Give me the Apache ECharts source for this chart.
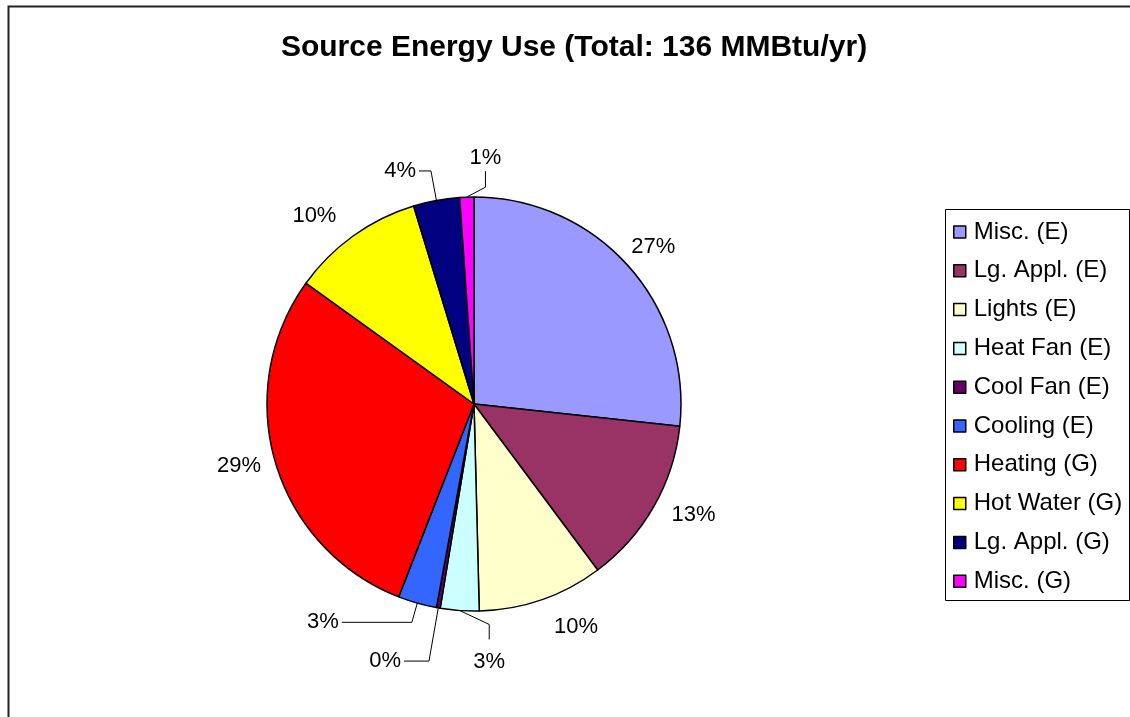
<!DOCTYPE html>
<html>
<head>
<meta charset="utf-8">
<script src="https://cdn.jsdelivr.net/npm/echarts@6/dist/echarts.min.js"></script>
<style>
  html, body { margin: 0; padding: 0; background: #fff; }
  #chart { width: 1130px; height: 717px; }
</style>
</head>
<body>
<div id="chart"></div>
<script>
const titleText = 'Source Energy Use (Total: 136 MMBtu/yr)';
const categories = ['Misc. (E)', 'Lg. Appl. (E)', 'Lights (E)', 'Heat Fan (E)', 'Cool Fan (E)',
  'Cooling (E)', 'Heating (G)', 'Hot Water (G)', 'Lg. Appl. (G)', 'Misc. (G)'];
// MMBtu/yr (sum ~136)
const energy = [36.3, 17.8, 13.3, 4.1, 0.4, 4.1, 39.4, 14.1, 4.9, 1.5];

const colors = ['#9999FF', '#993366', '#FFFFCC', '#CCFFFF', '#660066',
  '#3366FF', '#FF0000', '#FFFF00', '#000080', '#FF00FF'];
// leader line per slice: [length, length2, show line]
const leaders = [[19, 0, false], [17, 0, false], [29, 0, false], [22, 0, true], [54, 25, true],
  [20, 70, true], [12, 0, false], [24, 0, false], [30, 12, true], [14, 0, true]];
// label tweaks: [dx, dy, leader stub direction (0 = no leader)]
// Excel puts the 1% and Heat Fan labels on the other side of their leader
const nudges = { 0: [-14, -6, 0], 3: [50, 29, 1], 9: [38, -25, -1] };

const font = 'Liberation Sans, Arial, sans-serif';
const chart = echarts.init(document.getElementById('chart'));

chart.setOption({
  backgroundColor: '#fff',
  animation: false,
  color: colors,
  title: {
    text: titleText,
    top: 33,
    padding: 0,
    left: 574,
    textAlign: 'center',
    textStyle: { fontFamily: font, fontSize: 30, fontWeight: 'bold', color: '#000' }
  },
  graphic: [
    { // outer frame
      type: 'rect', z: -10,
      shape: { x: 8.5, y: 6.5, width: 1300, height: 900 },
      style: { fill: 'none', stroke: '#222', lineWidth: 2 }
    },
    { // legend box
      type: 'rect', z: -5,
      shape: { x: 945.5, y: 209.5, width: 184, height: 391 },
      style: { fill: 'none', stroke: '#000', lineWidth: 1 }
    }
  ],
  legend: {
    orient: 'vertical',
    left: 953,
    top: 220,
    padding: 0,
    itemWidth: 12,
    itemHeight: 12,
    itemGap: 14.8,
    icon: 'rect',
    itemStyle: { borderColor: '#000', borderWidth: 1.5 },
    textStyle: { fontFamily: font, fontSize: 24, color: '#000', padding: [0, 0, 0, 3] },
    data: categories
  },
  series: [{
    type: 'pie',
    center: [474, 404],
    radius: 207,
    startAngle: 90,
    clockwise: true,
    avoidLabelOverlap: false,
    percentPrecision: 0,
    emphasis: { disabled: true },
    itemStyle: { borderColor: '#000', borderWidth: 1.5 },
    label: {
      show: true,
      position: 'outside',
      formatter: '{d}%',
      fontFamily: font,
      fontSize: 22,
      color: '#000',
      distanceToLabelLine: 3
    },
    labelLine: { lineStyle: { color: '#000', width: 1 } },
    labelLayout: function (params) {
      const n = nudges[params.dataIndex];
      if (!n) return {};
      if (!n[2]) return { dx: n[0], dy: n[1] };
      const r = params.labelRect;
      const p0 = params.labelLinePoints[0];
      const cx = r.x + n[0] + r.width / 2;
      // elbow leader: from the slice edge to a vertical stub under/over the label
      const edge = n[2] > 0 ? r.y + n[1] - 11 : r.y + n[1] + r.height + 2;
      const elbow = n[2] > 0 ? edge - 15 : edge + 16;
      return {
        dx: n[0], dy: n[1],
        labelLinePoints: [[p0[0], p0[1]], [cx, elbow], [cx, edge]]
      };
    },
    data: categories.map((name, i) => ({
      name: name,
      value: energy[i],
      labelLine: {
        show: leaders[i][2],
        length: leaders[i][0],
        length2: leaders[i][1]
      }
    }))
  }]
});
</script>
</body>
</html>
